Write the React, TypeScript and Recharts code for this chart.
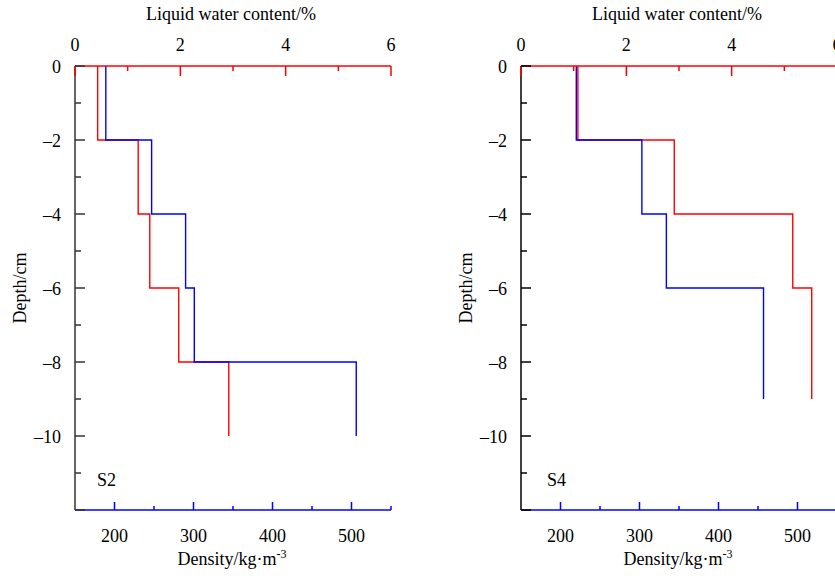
import { LineChart, Line, XAxis, YAxis, ReferenceDot } from 'recharts';

const RED = '#ff0000';
const BLUE = '#0000ff';

const depthTicks = [0, -1, -2, -3, -4, -5, -6, -7, -8, -9, -10, -11, -12];
const lwcTicks = [0, 1, 2, 3, 4, 5, 6];
const densityTicks = [200, 250, 300, 350, 400, 450, 500, 550];

// S2 layers (depth boundaries, cm)
const s2Depths = [0, -2, -4, -6, -8, -10];
const s2Lwc = [0.43, 1.2, 1.42, 1.97, 2.92];
const s2Density = [189, 247, 290, 301, 506];

// S4 layers
const s4Depths = [0, -2, -4, -6, -9];
const s4Lwc = [1.08, 2.91, 5.16, 5.52];
const s4Density = [220, 303, 334, 457];

// turn layer values into a step profile (value held constant through each layer)
function stepProfile(depths: number[], values: number[], key: string) {
    const pts: Record<string, number>[] = [];
    values.forEach((v, i) => {
        pts.push({ [key]: v, depth: depths[i] });
        pts.push({ [key]: v, depth: depths[i + 1] });
    });
    return pts;
}

const fmt = (v: number) => (v < 0 ? '\u2013' + Math.abs(v) : String(v));

function YTick({ x, y, payload, color }: any) {
    const v = payload.value;
    const major = v % 2 === 0;
    return (
        <g>
            <line x1={x} x2={x + (major ? 10 : 6)} y1={y} y2={y} stroke={color} strokeWidth={1.5} />
            {major && v !== -12 && (
                <text x={x - 14} y={y + 7} textAnchor="end" fill="#000">{fmt(v)}</text>
            )}
        </g>
    );
}

function TopTick({ x, y, payload }: any) {
    const v = payload.value;
    const major = v % 2 === 0;
    return (
        <g>
            <line x1={x} x2={x} y1={y} y2={y + (major ? 10 : 5)} stroke={RED} strokeWidth={1.5} />
            {major && (
                <text x={x} y={y - 15} textAnchor="middle" fill="#000">{v}</text>
            )}
        </g>
    );
}

function BottomTick({ x, y, payload }: any) {
    const v = payload.value;
    const major = v % 100 === 0;
    return (
        <g>
            <line x1={x} x2={x} y1={y} y2={y - (major ? 8 : 4)} stroke={BLUE} strokeWidth={1.5} />
            {major && (
                <text x={x} y={y + 32} textAnchor="middle" fill="#000">{v}</text>
            )}
        </g>
    );
}

function Panel({ name, depths, lwc, density, axisColor, namePos }: any) {
    return (
        <LineChart width={420} height={576} margin={{ top: 0, right: 29, bottom: 0, left: 0 }}>
            <XAxis
                xAxisId="lwc"
                orientation="top"
                type="number"
                dataKey="lwc"
                domain={[0, 6]}
                ticks={lwcTicks}
                interval={0}
                height={66}
                tickSize={0}
                tickMargin={0}
                tickLine={false}
                axisLine={{ stroke: RED, strokeWidth: 1.5 }}
                tick={(p: any) => <TopTick {...p} />}
                label={(p: any) => {
                    const vb = p.viewBox ?? { x: 75, y: 0, width: 316, height: 66 };
                    return (
                        <text x={vb.x + vb.width / 2 - 2} y={vb.y + 20} textAnchor="middle" fill="#000">
                            Liquid water content/%
                        </text>
                    );
                }}
            />
            <XAxis
                xAxisId="den"
                orientation="bottom"
                type="number"
                dataKey="den"
                domain={[150, 550]}
                ticks={densityTicks}
                interval={0}
                height={66}
                tickSize={0}
                tickMargin={0}
                tickLine={false}
                axisLine={{ stroke: BLUE, strokeWidth: 1.5 }}
                tick={(p: any) => <BottomTick {...p} />}
                label={(p: any) => {
                    const vb = p.viewBox ?? { x: 75, y: 510, width: 316, height: 66 };
                    return (
                        <text x={vb.x + vb.width / 2 - 1} y={vb.y + 55} textAnchor="middle" fill="#000">
                            Density/kg·m<tspan fontSize={12} dy={-7}>-3</tspan>
                        </text>
                    );
                }}
            />
            <YAxis
                type="number"
                domain={[-12, 0]}
                ticks={depthTicks}
                interval={0}
                width={75}
                tickSize={0}
                tickMargin={0}
                tickLine={false}
                axisLine={{ stroke: axisColor, strokeWidth: 1.5 }}
                tick={(p: any) => <YTick {...p} color={axisColor} />}
                label={(p: any) => {
                    const vb = p.viewBox ?? { x: 0, y: 66, width: 75, height: 444 };
                    const cx = vb.x + 20;
                    const cy = vb.y + vb.height / 2;
                    return (
                        <text x={cx} y={cy} transform={`rotate(-90 ${cx} ${cy})`} textAnchor="middle" dominantBaseline="central" fill="#000">
                            Depth/cm
                        </text>
                    );
                }}
            />
            <Line
                xAxisId="lwc"
                data={stepProfile(depths, lwc, 'lwc')}
                dataKey="depth"
                type="linear"
                stroke={RED}
                strokeWidth={1.4}
                dot={false}
                activeDot={false}
                isAnimationActive={false}
            />
            <Line
                xAxisId="den"
                data={stepProfile(depths, density, 'den')}
                dataKey="depth"
                type="linear"
                stroke={BLUE}
                strokeWidth={1.4}
                dot={false}
                activeDot={false}
                isAnimationActive={false}
            />
            <ReferenceDot
                xAxisId="den"
                x={namePos[0]}
                y={namePos[1]}
                r={0}
                ifOverflow="visible"
                shape={(p: any) => (
                    <text x={p.cx + 5} y={p.cy + 6} fill="#000">{name}</text>
                )}
            />
        </LineChart>
    );
}

export default function App() {
    return (
        <div
            style={{
                position: 'relative',
                width: 835,
                height: 576,
                overflow: 'hidden',
                background: '#fff',
                fontFamily: '"Liberation Serif", "Times New Roman", serif',
                fontSize: 18,
            }}
        >
            <style>{'body{margin:0;overflow:hidden}'}</style>
            <div style={{ position: 'absolute', left: 0, top: 0 }}>
                <Panel name="S2" depths={s2Depths} lwc={s2Lwc} density={s2Density} axisColor="#333" namePos={[171.5, -11.2]} />
            </div>
            <div style={{ position: 'absolute', left: 446, top: 0 }}>
                <Panel name="S4" depths={s4Depths} lwc={s4Lwc} density={s4Density} axisColor="#000" namePos={[176.5, -11.2]} />
            </div>
        </div>
    );
}
